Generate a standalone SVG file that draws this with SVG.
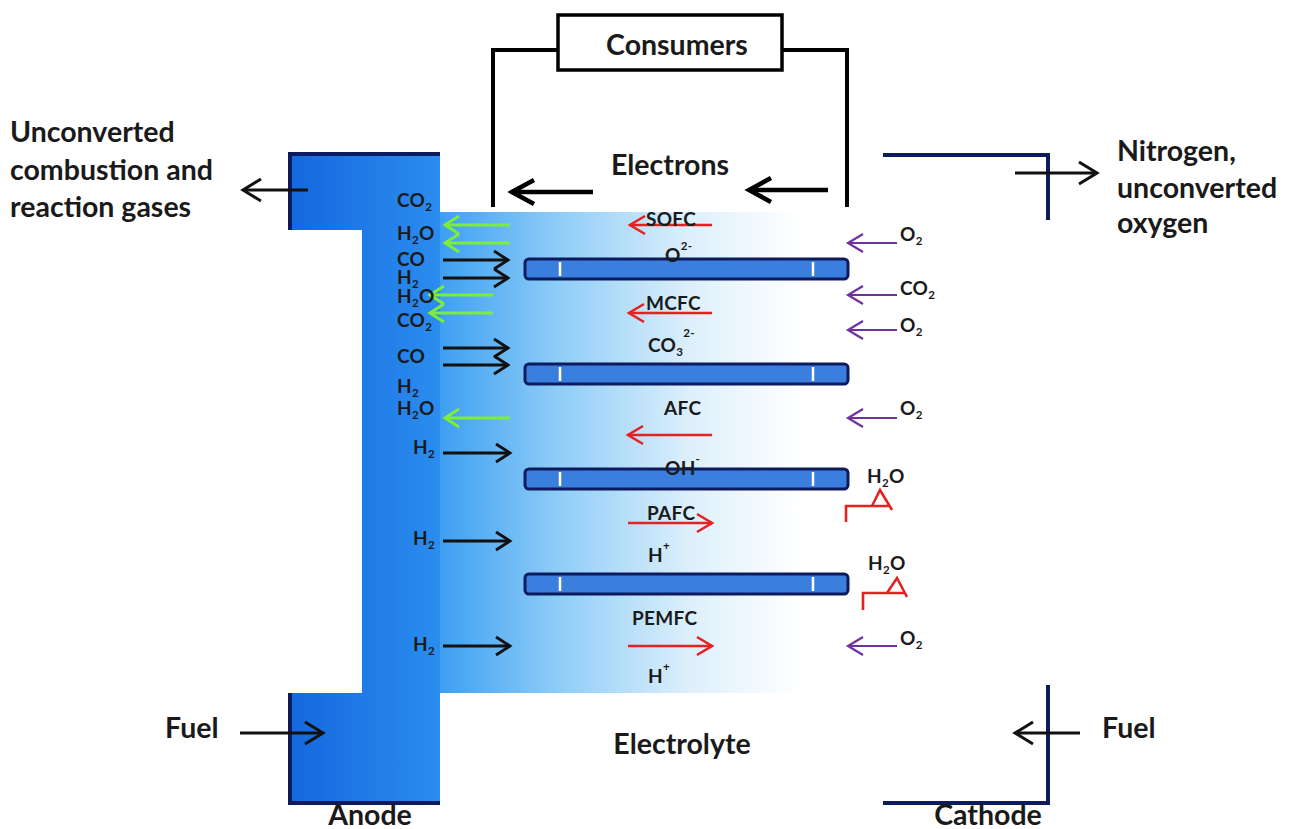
<svg xmlns="http://www.w3.org/2000/svg" width="1296" height="829" viewBox="0 0 1296 829">
<defs>
<style>
text{font-family:Lato,"Liberation Sans",sans-serif;font-weight:700;fill:#1a1a1a}
.big{font-size:28.5px}
.sm{font-size:19px;letter-spacing:0.3px}
.sub{font-size:11.5px}
.wire{fill:none;stroke:#000;stroke-width:4}
.navy{fill:none;stroke:#0d1b5e;stroke-width:4}
.bar{fill:#3a7fde;stroke:#0d1b5e;stroke-width:3}
.tick{stroke:#fff;stroke-width:2.5}
.blk{fill:none;stroke:#111;stroke-width:2.8;marker-end:url(#mb)}
.grn{fill:none;stroke:#7ded3b;stroke-width:3;marker-end:url(#mg)}
.red{fill:none;stroke:#e52222;stroke-width:2.6;marker-end:url(#mr)}
.pur{fill:none;stroke:#7030a0;stroke-width:2.2;marker-end:url(#mp)}
.el{fill:none;stroke:#000;stroke-width:4.5;marker-end:url(#me)}
.mid{fill:none;stroke:#111;stroke-width:3;marker-end:url(#mm)}
.step{fill:none;stroke:#e52222;stroke-width:2.6}
</style>
<marker id="mb" viewBox="0 0 14 18" refX="14" refY="9" markerWidth="14" markerHeight="18" orient="auto" markerUnits="userSpaceOnUse" overflow="visible"><path d="M0,0 L14,9 L0,18" fill="none" stroke="#111" stroke-width="2.8"/></marker>
<marker id="mg" viewBox="0 0 14 18" refX="14" refY="9" markerWidth="14" markerHeight="18" orient="auto" markerUnits="userSpaceOnUse" overflow="visible"><path d="M0,0 L14,9 L0,18" fill="none" stroke="#7ded3b" stroke-width="3"/></marker>
<marker id="mr" viewBox="0 0 15 18" refX="15" refY="9" markerWidth="15" markerHeight="18" orient="auto" markerUnits="userSpaceOnUse" overflow="visible"><path d="M0,0 L15,9 L0,18" fill="none" stroke="#e52222" stroke-width="2.6"/></marker>
<marker id="mp" viewBox="0 0 15 18" refX="15" refY="9" markerWidth="15" markerHeight="18" orient="auto" markerUnits="userSpaceOnUse" overflow="visible"><path d="M0,0 L15,9 L0,18" fill="none" stroke="#7030a0" stroke-width="2.2"/></marker>
<marker id="me" viewBox="0 0 22 24" refX="22" refY="12" markerWidth="22" markerHeight="24" orient="auto" markerUnits="userSpaceOnUse" overflow="visible"><path d="M0,0 L22,12 L0,24" fill="none" stroke="#000" stroke-width="4.5"/></marker>
<marker id="mm" viewBox="0 0 18 22" refX="18" refY="11" markerWidth="18" markerHeight="22" orient="auto" markerUnits="userSpaceOnUse" overflow="visible"><path d="M0,0 L18,11 L0,22" fill="none" stroke="#111" stroke-width="3"/></marker>
<linearGradient id="gA" gradientUnits="userSpaceOnUse" x1="290" y1="0" x2="440" y2="0">
<stop offset="0" stop-color="#1568de"/><stop offset="1" stop-color="#2b8def"/>
</linearGradient>
<linearGradient id="gB" gradientUnits="userSpaceOnUse" x1="440" y1="0" x2="800" y2="0">
<stop offset="0" stop-color="#3d9ff2"/><stop offset="0.33" stop-color="#8fcdf7"/><stop offset="0.7" stop-color="#def0fb"/><stop offset="1" stop-color="#ffffff"/>
</linearGradient>
</defs>
<rect width="1296" height="829" fill="#fff"/>

<g id="electrolyte">
<rect x="440" y="212" width="420" height="481" fill="url(#gB)"/>
<text class="big" x="682" y="754" text-anchor="middle">Electrolyte</text>
</g>

<g id="anode">
<path d="M290,154 H440 V803 H290 V693 H362 V230 H290 Z" fill="url(#gA)"/>
<path class="navy" d="M290,230 V154 H440"/>
<path class="navy" d="M290,693 V803 H440"/>
<text class="big" x="370" y="825" text-anchor="middle">Anode</text>
</g>

<g id="cathode">
<path class="navy" d="M883,155 H1048 V220"/>
<path class="navy" d="M1048,685 V803 H883"/>
<text class="big" x="988" y="825" text-anchor="middle">Cathode</text>
</g>

<g id="consumers">
<rect x="558" y="15" width="224" height="55" fill="#fff" stroke="#000" stroke-width="3.5"/>
<text class="big" x="677" y="55" text-anchor="middle">Consumers</text>
</g>

<g id="membranes">
<rect class="bar" x="525" y="259" width="323" height="20" rx="4"/>
<rect class="bar" x="525" y="364" width="323" height="20" rx="4"/>
<rect class="bar" x="525" y="469" width="323" height="20" rx="4"/>
<rect class="bar" x="525" y="574" width="323" height="20" rx="4"/>
<g class="tick">
<line x1="560" y1="262" x2="560" y2="276"/><line x1="813" y1="262" x2="813" y2="276"/>
<line x1="560" y1="367" x2="560" y2="381"/><line x1="813" y1="367" x2="813" y2="381"/>
<line x1="560" y1="472" x2="560" y2="486"/><line x1="813" y1="472" x2="813" y2="486"/>
<line x1="560" y1="577" x2="560" y2="591"/><line x1="813" y1="577" x2="813" y2="591"/>
</g>
</g>

<g id="connectors">
<path class="wire" d="M558,50 H493 V207"/>
<path class="wire" d="M782,50 H847 V207"/>
<line class="el" x1="593" y1="192" x2="512" y2="192"/>
<line class="el" x1="828" y1="190" x2="749" y2="190"/>
<line class="mid" x1="308" y1="190" x2="243" y2="190"/>
<line class="mid" x1="1015" y1="173" x2="1097" y2="173"/>
<line class="mid" x1="240" y1="733" x2="323" y2="733"/>
<line class="mid" x1="1080" y1="733" x2="1015" y2="733"/>
<line class="grn" x1="510" y1="225" x2="445" y2="225"/>
<line class="grn" x1="510" y1="243" x2="445" y2="243"/>
<line class="grn" x1="493" y1="295" x2="430" y2="295"/>
<line class="grn" x1="493" y1="313" x2="430" y2="313"/>
<line class="grn" x1="510" y1="418" x2="445" y2="418"/>
<line class="blk" x1="443" y1="260" x2="508" y2="260"/>
<line class="blk" x1="443" y1="278" x2="508" y2="278"/>
<line class="blk" x1="443" y1="348" x2="508" y2="348"/>
<line class="blk" x1="443" y1="365" x2="508" y2="365"/>
<line class="blk" x1="443" y1="453" x2="510" y2="453"/>
<line class="blk" x1="443" y1="541" x2="510" y2="541"/>
<line class="blk" x1="443" y1="646" x2="510" y2="646"/>
<line class="red" x1="712" y1="225" x2="630" y2="225"/>
<line class="red" x1="712" y1="313" x2="629" y2="313"/>
<line class="red" x1="712" y1="435" x2="628" y2="435"/>
<line class="red" x1="628" y1="523" x2="712" y2="523"/>
<line class="red" x1="628" y1="646" x2="712" y2="646"/>
<line class="pur" x1="897" y1="243" x2="848" y2="243"/>
<line class="pur" x1="897" y1="295" x2="848" y2="295"/>
<line class="pur" x1="897" y1="330" x2="848" y2="330"/>
<line class="pur" x1="897" y1="418" x2="848" y2="418"/>
<line class="pur" x1="897" y1="646" x2="848" y2="646"/>
<path class="step" d="M846,522 V506 H890 M872,506 L880,490 L892,510"/>
<path class="step" d="M863,610 V593 H905 M887,593 L897,578 L907,597"/>
</g>

<g id="labels-outer">
<text class="big" x="10" y="142">Unconverted</text>
<text class="big" x="10" y="180">combustion and</text>
<text class="big" x="10" y="217">reaction gases</text>
<text class="big" x="1117" y="161">Nitrogen,</text>
<text class="big" x="1117" y="198">unconverted</text>
<text class="big" x="1117" y="233">oxygen</text>
<text class="big" x="670" y="175" text-anchor="middle">Electrons</text>
<text class="big" x="165" y="738">Fuel</text>
<text class="big" x="1102" y="738">Fuel</text>
</g>

<g id="labels-anode">
<text class="sm" x="397" y="207">CO<tspan class="sub" dy="4">2</tspan></text>
<text class="sm" x="397" y="240">H<tspan class="sub" dy="4">2</tspan><tspan dy="-4">O</tspan></text>
<text class="sm" x="397" y="266">CO</text>
<text class="sm" x="397" y="284">H<tspan class="sub" dy="4">2</tspan></text>
<text class="sm" x="397" y="303">H<tspan class="sub" dy="4">2</tspan><tspan dy="-4">O</tspan></text>
<text class="sm" x="397" y="327">CO<tspan class="sub" dy="4">2</tspan></text>
<text class="sm" x="397" y="363">CO</text>
<text class="sm" x="397" y="393">H<tspan class="sub" dy="4">2</tspan></text>
<text class="sm" x="397" y="415">H<tspan class="sub" dy="4">2</tspan><tspan dy="-4">O</tspan></text>
<text class="sm" x="413" y="454">H<tspan class="sub" dy="4">2</tspan></text>
<text class="sm" x="413" y="545">H<tspan class="sub" dy="4">2</tspan></text>
<text class="sm" x="413" y="651">H<tspan class="sub" dy="4">2</tspan></text>
</g>

<g id="labels-cells">
<text class="sm" x="646" y="226">SOFC</text>
<text class="sm" x="665" y="262">O<tspan class="sub" dy="-12">2-</tspan></text>
<text class="sm" x="646" y="310">MCFC</text>
<text class="sm" x="648" y="352">CO<tspan class="sub" dy="4">3</tspan><tspan class="sub" dy="-19">2-</tspan></text>
<text class="sm" x="664" y="415">AFC</text>
<text class="sm" x="665" y="475">OH<tspan class="sub" dy="-12">-</tspan></text>
<text class="sm" x="647" y="520">PAFC</text>
<text class="sm" x="648" y="562">H<tspan class="sub" dy="-12">+</tspan></text>
<text class="sm" x="632" y="625">PEMFC</text>
<text class="sm" x="648" y="683">H<tspan class="sub" dy="-12">+</tspan></text>
</g>

<g id="labels-cathode">
<text class="sm" x="900" y="241">O<tspan class="sub" dy="4">2</tspan></text>
<text class="sm" x="900" y="295">CO<tspan class="sub" dy="4">2</tspan></text>
<text class="sm" x="900" y="332">O<tspan class="sub" dy="4">2</tspan></text>
<text class="sm" x="900" y="415">O<tspan class="sub" dy="4">2</tspan></text>
<text class="sm" x="900" y="645">O<tspan class="sub" dy="4">2</tspan></text>
<text class="sm" x="867" y="483">H<tspan class="sub" dy="4">2</tspan><tspan dy="-4">O</tspan></text>
<text class="sm" x="868" y="570">H<tspan class="sub" dy="4">2</tspan><tspan dy="-4">O</tspan></text>
</g>
</svg>
